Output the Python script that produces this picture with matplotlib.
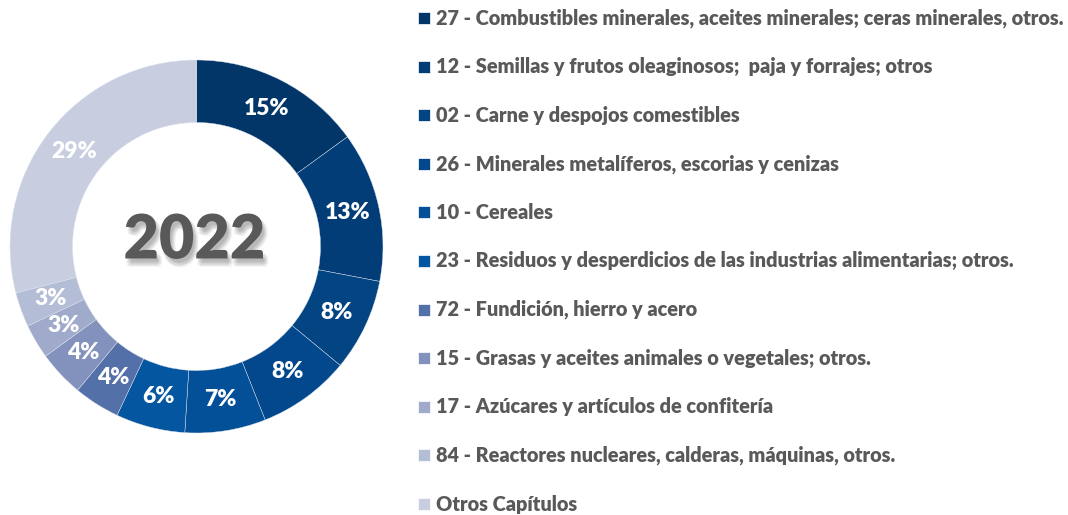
import matplotlib.pyplot as plt
import matplotlib.patheffects as pe
from matplotlib.patches import Rectangle

# datos del grafico
capitulos = [
    "27 - Combustibles minerales, aceites minerales; ceras minerales, otros.",
    "12 - Semillas y frutos oleaginosos;  paja y forrajes; otros",
    "02 - Carne y despojos comestibles",
    "26 - Minerales metalíferos, escorias y cenizas",
    "10 - Cereales",
    "23 - Residuos y desperdicios de las industrias alimentarias; otros.",
    "72 - Fundición, hierro y acero",
    "15 - Grasas y aceites animales o vegetales; otros.",
    "17 - Azúcares y artículos de confitería",
    "84 - Reactores nucleares, calderas, máquinas, otros.",
    "Otros Capítulos",
]
porcentajes = [15, 13, 8, 8, 7, 6, 4, 4, 3, 3, 29]
colores = ["#023668", "#023D78", "#034483", "#03488C", "#034F98", "#0556A0",
           "#5470A8", "#8292BD", "#A0AACB", "#B4BDD6", "#C8CEDF"]
anio = "2022"

W, H = 1068, 515
fig = plt.figure(figsize=(W / 100, H / 100), dpi=100)
fig.patch.set_facecolor("white")

ax = fig.add_axes([0, 0, 400 / W, 1])
cx, cy = 196.5, H - 246.5
radio = 186.5
wedges, _, pct = ax.pie(
    porcentajes, colors=colores, startangle=90, counterclock=False,
    center=(cx, cy), radius=radio,
    autopct=lambda p: f"{p:.0f}%", pctdistance=0.83,
    wedgeprops=dict(width=62.5, edgecolor="#dde3ee", linewidth=0.3),
)
for t in pct:
    t.set_color("white")
    t.set_fontsize(16.5)
    t.set_fontweight("heavy")
    t.set_fontfamily("Lato")
ax.set_xlim(0, 400)
ax.set_ylim(0, H)
ax.axis("off")

# sombra difusa del anio
sombra = [pe.SimplePatchShadow(offset=(dx, dy), shadow_rgbFace="#555555", alpha=0.07)
          for dx, dy in [(1, -3), (3, -3), (2, -5), (2, -2), (3, -6), (1, -5), (4, -4)]]
ax.text(cx - 2, cy + 6, anio, ha="center", va="center", fontsize=44,
        fontweight="heavy", color="#595959", family="Lato",
        path_effects=sombra + [pe.Normal()])

# leyenda manual
y0, paso = 18, 48.6
for i, (lab, col) in enumerate(zip(capitulos, colores)):
    y = y0 + i * paso
    fig.patches.append(Rectangle((418 / W, 1 - (y + 6) / H), 12 / W, 12 / H,
                                 transform=fig.transFigure, facecolor=col,
                                 edgecolor="white", linewidth=0.5))
    fig.text(436 / W, 1 - y / H, lab, ha="left", va="center", fontsize=14.3,
             fontweight="heavy", color="#595959", family="Lato")

fig.savefig("out.png", dpi=100)
